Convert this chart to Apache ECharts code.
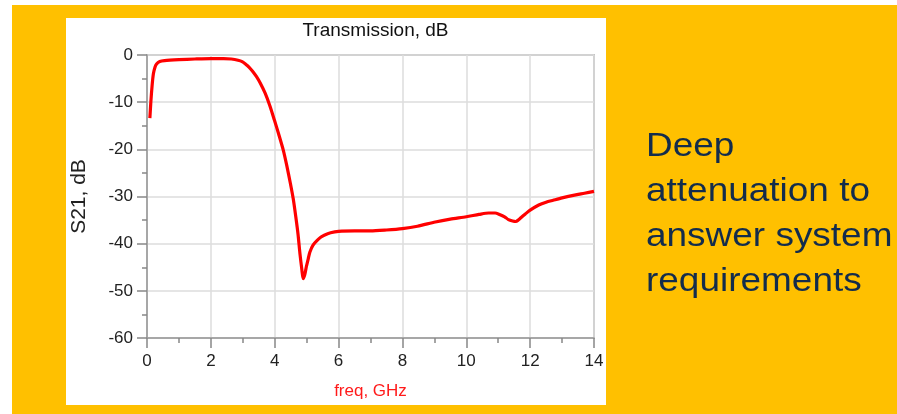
<!DOCTYPE html>
<html>
<head>
<meta charset="utf-8">
<script src="https://cdn.jsdelivr.net/npm/echarts@6/dist/echarts.min.js"></script>
<style>
html,body{margin:0;padding:0;background:#fff;}
#c{width:897px;height:414px;}
</style>
</head>
<body>
<div id="c"></div>
<script>
// Data
const titleText = 'Transmission, dB';
const xName = 'freq, GHz';
const yName = 'S21, dB';
const sideLines = ['Deep', 'attenuation to', 'answer system', 'requirements'];
const freq = [0.09, 0.12, 0.16, 0.2, 0.25, 0.3, 0.4, 0.55, 1.0, 1.5, 2.0, 2.4, 2.64, 2.85, 2.98, 3.1, 3.2, 3.3, 3.43, 3.55, 3.7, 3.85, 3.99, 4.13, 4.27, 4.38, 4.49, 4.58, 4.66, 4.73, 4.79, 4.85, 4.89, 4.94, 4.99, 5.05, 5.1, 5.2, 5.33, 5.45, 5.55, 5.75, 6.0, 6.5, 7.0, 7.5, 8.0, 8.47, 9.03, 9.5, 10.0, 10.4, 10.7, 10.9, 11.04, 11.2, 11.32, 11.45, 11.55, 11.63, 11.71, 11.85, 12.0, 12.27, 12.5, 12.72, 13.0, 13.39, 13.7, 14.0];
const s21 = [-13.4, -10, -6.5, -4, -2.6, -1.9, -1.4, -1.2, -1.0, -0.85, -0.75, -0.75, -0.85, -1.1, -1.4, -2.0, -2.6, -3.4, -4.6, -6.0, -8.1, -10.8, -13.8, -16.9, -20.2, -23.5, -27.2, -30.5, -34.3, -38, -42.1, -45.5, -47.4, -46.6, -44.9, -43.2, -41.8, -40.3, -39.3, -38.6, -38.2, -37.7, -37.4, -37.3, -37.3, -37.1, -36.8, -36.3, -35.4, -34.8, -34.3, -33.8, -33.5, -33.5, -33.8, -34.3, -34.9, -35.2, -35.3, -35.0, -34.5, -33.7, -32.9, -31.8, -31.2, -30.8, -30.3, -29.7, -29.3, -28.9];
const xTicks = {min: 0, max: 14, interval: 2};
const yTicks = {min: -60, max: 0, interval: 10};

const chart = echarts.init(document.getElementById('c'), null, {renderer: 'canvas'});
const font = 'Liberation Sans, Arial, sans-serif';
chart.setOption({
  backgroundColor: '#ffffff',
  animation: false,
  textStyle: {fontFamily: font},
  title: {
    text: titleText, left: 370.5, top: 16, textAlign: 'center',
    textStyle: {fontFamily: font, fontSize: 19, fontWeight: 'normal', color: '#111'}
  },
  graphic: [
    {type: 'rect', z: -10, shape: {x: 12, y: 5, width: 885, height: 409}, style: {fill: '#FFC000'}},
    {type: 'rect', z: -9, shape: {x: 66, y: 18, width: 540, height: 387}, style: {fill: '#ffffff'}},
    {type: 'text', z: 10, x: 646, y: 125, scaleX: 1.12, style: {
      text: sideLines.join('\n'), font: '33px ' + font, fill: '#132C4C',
      lineHeight: 44.7, verticalAlign: 'top', align: 'left'
    }}
  ],
  grid: {left: 147, top: 55, width: 447, height: 283, show: true, borderColor: '#999', borderWidth: 1.5, backgroundColor: 'transparent'},
  xAxis: {
    type: 'value', min: xTicks.min, max: xTicks.max, interval: xTicks.interval,
    name: xName, nameLocation: 'middle', nameGap: 45,
    nameTextStyle: {color: '#ff1a1a', fontSize: 17, fontFamily: font},
    axisLine: {show: true, onZero: false, lineStyle: {color: '#999', width: 1.5}},
    axisTick: {show: true, length: 10, lineStyle: {color: '#888', width: 1.5}},
    minorTick: {show: true, splitNumber: 2, length: 5, lineStyle: {color: '#888', width: 1.5}},
    axisLabel: {fontSize: 17, color: '#222', margin: 15, fontFamily: font},
    splitLine: {show: true, lineStyle: {color: '#dcdcdc', width: 1.5}}
  },
  yAxis: {
    type: 'value', min: yTicks.min, max: yTicks.max, interval: yTicks.interval,
    name: yName, nameLocation: 'middle', nameGap: 57,
    nameTextStyle: {color: '#222', fontSize: 21, fontFamily: font},
    axisLine: {show: true, onZero: false, lineStyle: {color: '#999', width: 1.5}},
    axisTick: {show: true, length: 10, lineStyle: {color: '#888', width: 1.5}},
    minorTick: {show: true, splitNumber: 2, length: 5, lineStyle: {color: '#888', width: 1.5}},
    axisLabel: {fontSize: 17, color: '#222', margin: 14, fontFamily: font},
    splitLine: {show: true, lineStyle: {color: '#dcdcdc', width: 1.5}}
  },
  series: [{
    type: 'line', data: freq.map((f, i) => [f, s21[i]]),
    showSymbol: false, smooth: 0.25, clip: true,
    lineStyle: {color: '#ff0000', width: 3.2}, z: 5
  }]
});
</script>
</body>
</html>
